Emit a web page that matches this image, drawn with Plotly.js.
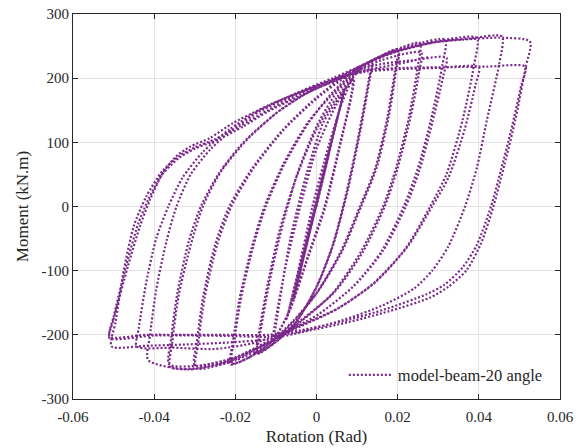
<!DOCTYPE html>
<html>
<head>
<meta charset="utf-8">
<script src="https://cdn.plot.ly/plotly-3.0.1.min.js"></script>
<style>html,body{margin:0;padding:0;background:#fff;}#chart{width:578px;height:448px;}</style>
</head>
<body>
<div id="chart"></div>
<script>
// Rotation (rad) and moment (kN.m), branch by branch
const rotation = [
  0, 0.0030, -0.0035, 0.0030, -0.0035, 0.0030, -0.0036,
  0.0050, -0.0055, 0.0051, -0.0056, 0.0052, -0.0057,
  0.0068, -0.0072, 0.0069, -0.0073,
  -0.0045, -0.0010, 0.0030, 0.0065, 0.0090,
  0.0086, 0.0055, 0.0020, -0.0020, -0.0065, -0.0105,
  -0.0100, -0.0065, -0.0024, 0.0016, 0.0058, 0.0092,
  0.0088, 0.0058, 0.0022, -0.0020, -0.0068, -0.0108,
  -0.0103, -0.0075, -0.0040, 0.0000, 0.0050, 0.0095, 0.0135,
  0.0128, 0.0105, 0.0075, 0.0040, 0.0000, -0.0050, -0.0095, -0.0145,
  -0.0138, -0.0115, -0.0082, -0.0045, 0.0000, 0.0050, 0.0095, 0.0138,
  0.0131, 0.0108, 0.0078, 0.0042, 0.0003, -0.0050, -0.0098, -0.0148,
  -0.0142, -0.0120, -0.0090, -0.0050, 0.0000, 0.0050, 0.0110, 0.0200,
  0.0193, 0.0175, 0.0145, 0.0107, 0.0060, 0.0000, -0.0060, -0.0120, -0.0165, -0.0210,
  -0.0203, -0.0185, -0.0155, -0.0125, -0.0080, -0.0020, 0.0040, 0.0110, 0.0202,
  0.0195, 0.0178, 0.0148, 0.0110, 0.0063, 0.0003, -0.0060, -0.0120, -0.0168, -0.0213,
  -0.0206, -0.0190, -0.0160, -0.0128, -0.0080, -0.0020, 0.0050, 0.0120, 0.0190, 0.0255,
  0.0250, 0.0228, 0.0196, 0.0164, 0.0110, 0.0040, -0.0040, -0.0120, -0.0200, -0.0297,
  -0.0292, -0.0275, -0.0245, -0.0210, -0.0155, -0.0080, 0.0000, 0.0080, 0.0160, 0.0258,
  0.0253, 0.0232, 0.0200, 0.0168, 0.0115, 0.0045, -0.0040, -0.0120, -0.0200, -0.0300,
  -0.0295, -0.0279, -0.0250, -0.0215, -0.0160, -0.0085, 0.0000, 0.0080, 0.0160, 0.0240, 0.0317,
  0.0310, 0.0282, 0.0250, 0.0215, 0.0160, 0.0090, 0.0000, -0.0100, -0.0200, -0.0290, -0.0360,
  -0.0355, -0.0340, -0.0310, -0.0280, -0.0235, -0.0170, -0.0090, 0.0000, 0.0080, 0.0160, 0.0240, 0.0320,
  0.0313, 0.0285, 0.0253, 0.0220, 0.0165, 0.0095, 0.0005, -0.0100, -0.0200, -0.0290, -0.0363,
  -0.0358, -0.0343, -0.0315, -0.0285, -0.0240, -0.0180, -0.0100, -0.0020, 0.0060, 0.0130, 0.0200, 0.0280, 0.0395,
  0.0388, 0.0360, 0.0320, 0.0280, 0.0220, 0.0140, 0.0050, -0.0050, -0.0150, -0.0240, -0.0320, -0.0415,
  -0.0410, -0.0395, -0.0370, -0.0345, -0.0310, -0.0260, -0.0206, -0.0140, -0.0050, 0.0040, 0.0120, 0.0200, 0.0300, 0.0400,
  0.0392, 0.0365, 0.0325, 0.0285, 0.0225, 0.0145, 0.0055, -0.0050, -0.0150, -0.0250, -0.0350, -0.0443,
  -0.0438, -0.0420, -0.0395, -0.0365, -0.0330, -0.0280, -0.0215, -0.0140, -0.0045, 0.0040, 0.0120, 0.0200, 0.0300, 0.0380, 0.0457,
  0.0450, 0.0420, 0.0395, 0.0366, 0.0325, 0.0285, 0.0240, 0.0160, 0.0060, -0.0040, -0.0120, -0.0200, -0.0300, -0.0400, -0.0510,
  -0.0500, -0.0465, -0.0435, -0.0410, -0.0378, -0.0346, -0.0312, -0.0262, -0.0206, -0.0140, -0.0107, -0.0024, 0.0058, 0.0124, 0.0180, 0.0280, 0.0360, 0.0450, 0.0526,
  0.0515, 0.0490, 0.0463, 0.0436, 0.0405, 0.0370, 0.0325, 0.0280, 0.0180, 0.0080, -0.0030, -0.0120, -0.0220, -0.0320, -0.0420, -0.0505,
  -0.0495, -0.0475, -0.0450, -0.0420, -0.0380, -0.0340, -0.0300, -0.0250, -0.0190, -0.0120, -0.0040, 0.0040, 0.0120, 0.0220, 0.0320, 0.0420, 0.0515,
  0.0505, 0.0480, 0.0455, 0.0430, 0.0395, 0.0360, 0.0315, 0.0270, 0.0170, 0.0070, -0.0040, -0.0120, -0.0220, -0.0320, -0.0420, -0.0510,
  -0.0500, -0.0468, -0.0440, -0.0415, -0.0380, -0.0340, -0.0300, -0.0240, -0.0180, -0.0120, -0.0040, 0.0040, 0.0120, 0.0200, 0.0280
];
const moment = [
  0, 80, -85, 82, -88, 84, -90,
  135, -140, 138, -143, 140, -145,
  180, -172, 182, -175,
  -100, 0, 95, 165, 200,
  175, 90, 0, -75, -160, -207,
  -185, -52, 52, 130, 172, 200,
  178, 95, 0, -78, -165, -210,
  -185, -90, 0, 90, 160, 205, 225,
  195, 115, 25, -60, -125, -180, -208, -228,
  -195, -115, -25, 55, 125, 178, 207, 226,
  198, 118, 28, -58, -122, -180, -210, -230,
  -198, -120, -35, 45, 120, 170, 215, 245,
  210, 140, 60, 0, -70, -135, -180, -215, -235, -245,
  -210, -140, -60, 0, 65, 130, 178, 218, 243,
  208, 140, 60, 0, -70, -133, -182, -216, -236, -246,
  -212, -145, -65, 0, 68, 132, 182, 222, 243, 255,
  220, 140, 60, 0, -70, -135, -180, -215, -240, -252,
  -215, -140, -60, 0, 60, 120, 168, 205, 228, 240,
  210, 140, 60, 0, -70, -133, -178, -212, -236, -247,
  -212, -140, -60, 0, 58, 118, 170, 208, 235, 252, 260,
  220, 135, 60, 0, -70, -125, -170, -205, -238, -252, -250,
  -210, -140, -60, 0, 55, 105, 150, 185, 208, 222, 228, 232,
  205, 130, 55, 0, -68, -122, -168, -203, -235, -248, -246,
  -205, -135, -55, 0, 52, 100, 145, 178, 200, 225, 242, 255, 263,
  220, 135, 50, 0, -65, -120, -160, -190, -222, -246, -254, -239,
  -200, -130, -55, 0, 50, 90, 120, 148, 175, 198, 210, 214, 216, 217,
  190, 120, 45, 0, -62, -118, -158, -188, -212, -222, -220, -218,
  -190, -120, -50, 0, 45, 85, 120, 150, 178, 200, 222, 242, 257, 262, 265,
  222, 135, 60, 0, -62, -100, -128, -155, -178, -195, -203, -202, -201, -201, -205,
  -176, -94, -31, 11, 53, 78, 93, 107, 130, 151, 161, 182, 202, 224, 239, 255, 260, 263, 257,
  216, 135, 65, 0, -58, -99, -125, -142, -163, -180, -195, -207, -212, -215, -217, -218,
  -180, -100, -30, 15, 55, 78, 92, 105, 125, 150, 175, 198, 212, 216, 217, 218, 218,
  190, 120, 58, 0, -60, -95, -122, -137, -160, -178, -193, -200, -200, -200, -200, -203,
  -172, -90, -28, 10, 50, 75, 90, 105, 125, 148, 172, 195, 212, 222, 233
];

const seriesName = 'model-beam-20 angle';
const xTickVals = [-0.06, -0.04, -0.02, 0, 0.02, 0.04, 0.06];
const xTickText = ['-0.06', '-0.04', '-0.02', '0', '0.02', '0.04', '0.06'];
const yTickVals = [-300, -200, -100, 0, 100, 200, 300];
const yTickText = ['-300', '-200', '-100', '0', '100', '200', '300'];

const purple = 'rgb(122,40,138)';
const axisColor = '#262626';
const fontFam = '"Liberation Serif", "Times New Roman", serif';

const trace = {
  x: rotation, y: moment, type: 'scatter', mode: 'lines', name: seriesName,
  line: {color: purple, width: 2.2, dash: '2px,2px', shape: 'spline', smoothing: 0.7}
};

const axisCommon = {
  showline: true, linecolor: axisColor, linewidth: 1, mirror: 'ticks',
  ticks: 'inside', ticklen: 5, tickcolor: axisColor, tickwidth: 1,
  showgrid: true, gridcolor: '#e3e3e3', gridwidth: 1, zeroline: false,
  tickfont: {family: fontFam, size: 15, color: axisColor}
};

const layout = {
  width: 578, height: 448,
  margin: {l: 73, r: 18, t: 14, b: 49},
  paper_bgcolor: '#fff', plot_bgcolor: '#fff',
  font: {family: fontFam, color: axisColor},
  showlegend: true,
  legend: {x: 0.975, y: 0.062, xanchor: 'right', yanchor: 'middle',
           bgcolor: 'rgba(255,255,255,0)', borderwidth: 0, itemwidth: 44,
           font: {family: fontFam, size: 16.5, color: axisColor}},
  xaxis: Object.assign({}, axisCommon, {
    range: [-0.06, 0.06], tickmode: 'array', tickvals: xTickVals, ticktext: xTickText,
    ticklabelstandoff: 4,
    title: {text: 'Rotation (Rad)', font: {family: fontFam, size: 17, color: axisColor}, standoff: 6}
  }),
  yaxis: Object.assign({}, axisCommon, {
    range: [-300, 300], tickmode: 'array', tickvals: yTickVals, ticktext: yTickText,
    title: {text: 'Moment (kN.m)', font: {family: fontFam, size: 17, color: axisColor}, standoff: 8}
  })
};

Plotly.newPlot('chart', [trace], layout, {displayModeBar: false, staticPlot: true});
</script>
</body>
</html>
